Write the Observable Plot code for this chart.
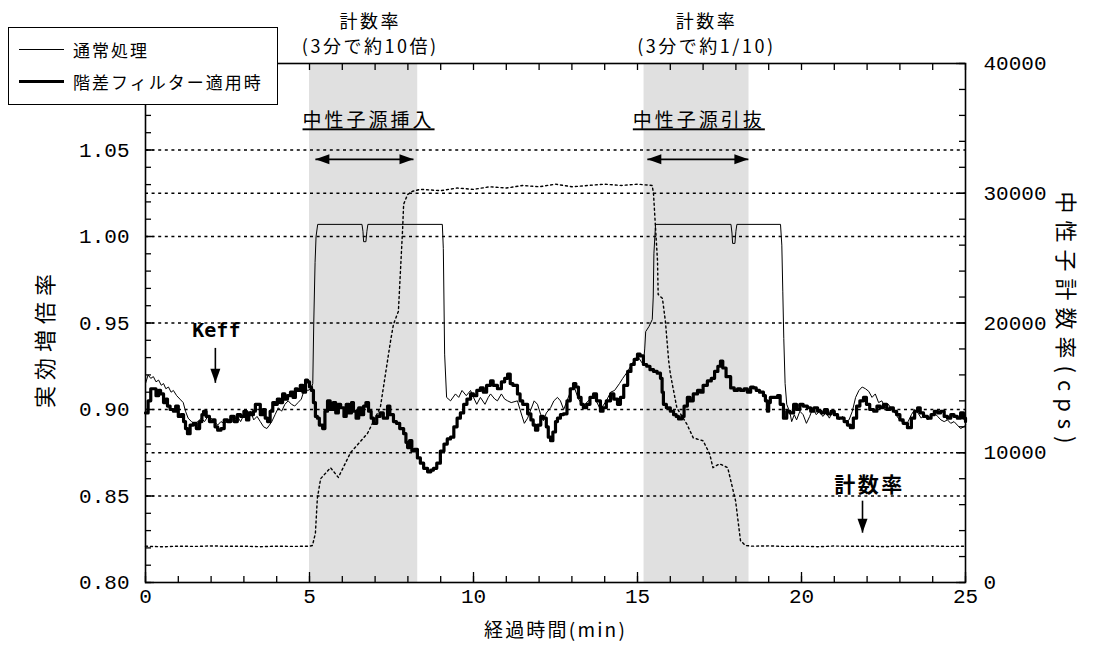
<!DOCTYPE html>
<html><head><meta charset="utf-8">
<script src="https://cdn.jsdelivr.net/npm/d3@7"></script>
<script src="https://cdn.jsdelivr.net/npm/@observablehq/plot@0.6"></script>
<style>
html,body{margin:0;padding:0;background:#fff;}
#wrap{position:relative;width:1093px;height:648px;overflow:hidden;}
#legend{position:absolute;left:8px;top:27px;width:268px;height:76px;border:1.5px solid #000;background:#fff;
  font-family:"Noto Sans CJK JP",sans-serif;font-size:17px;letter-spacing:2px;color:#000;}
#legend .row{position:absolute;left:10px;height:24px;display:flex;align-items:center;}
#legend .sw{width:45px;margin-right:9px;}
</style></head>
<body><div id="wrap"><div id="chart"></div>
<div id="legend">
  <div class="row" style="top:9px"><div class="sw" style="border-top:1px solid #000"></div><span>通常処理</span></div>
  <div class="row" style="top:41px"><div class="sw" style="border-top:3px solid #000"></div><span>階差フィルター適用時</span></div>
</div></div>
<script>
// ---- data ----
const thickT = [0.00,0.08,0.16,0.24,0.32,0.40,0.46,0.55,0.62,0.67,0.75,0.85,0.92,1.00,1.08,1.16,1.22,1.28,1.36,1.46,1.55,1.65,1.72,1.77,1.85,1.95,2.05,2.12,2.20,2.30,2.40,2.50,2.60,2.70,2.80,2.90,3.00,3.08,3.15,3.22,3.29,3.35,3.41,3.50,3.58,3.65,3.72,3.80,3.88,3.95,4.02,4.10,4.18,4.25,4.33,4.42,4.50,4.57,4.63,4.72,4.80,4.88,4.94,5.00,5.06,5.12,5.18,5.24,5.30,5.40,5.47,5.55,5.63,5.72,5.80,5.88,5.95,6.05,6.12,6.20,6.28,6.34,6.42,6.50,6.58,6.65,6.72,6.80,6.88,6.95,7.05,7.15,7.25,7.38,7.45,7.56,7.65,7.75,7.87,7.94,7.99,8.05,8.12,8.20,8.29,8.38,8.48,8.60,8.70,8.78,8.88,8.99,9.10,9.20,9.30,9.40,9.50,9.60,9.70,9.80,9.91,10.00,10.10,10.21,10.30,10.40,10.52,10.60,10.73,10.85,10.95,11.04,11.12,11.20,11.34,11.42,11.50,11.65,11.75,11.82,11.89,11.96,12.05,12.13,12.22,12.28,12.35,12.42,12.50,12.56,12.65,12.74,12.85,12.95,13.05,13.12,13.20,13.28,13.35,13.45,13.55,13.66,13.75,13.87,13.95,14.05,14.18,14.28,14.39,14.48,14.58,14.70,14.80,14.90,15.00,15.08,15.18,15.28,15.38,15.49,15.60,15.70,15.75,15.79,15.88,16.00,16.10,16.18,16.25,16.35,16.42,16.52,16.60,16.70,16.83,16.92,17.00,17.13,17.25,17.35,17.45,17.53,17.60,17.70,17.84,17.95,18.05,18.14,18.25,18.35,18.45,18.54,18.62,18.72,18.84,18.90,18.96,19.00,19.05,19.15,19.27,19.35,19.45,19.55,19.65,19.76,19.85,19.95,20.05,20.18,20.28,20.38,20.49,20.60,20.70,20.79,20.90,21.00,21.10,21.19,21.30,21.40,21.49,21.58,21.68,21.78,21.89,21.98,22.08,22.20,22.30,22.40,22.50,22.60,22.70,22.80,22.90,23.00,23.10,23.23,23.35,23.45,23.54,23.62,23.72,23.84,23.95,24.05,24.15,24.24,24.35,24.45,24.55,24.65,24.75,24.85,24.94,25.00];
const thickV = [0.898,0.905,0.912,0.912,0.908,0.911,0.909,0.904,0.906,0.902,0.900,0.899,0.902,0.896,0.897,0.893,0.889,0.886,0.891,0.892,0.889,0.893,0.897,0.899,0.896,0.893,0.894,0.890,0.888,0.889,0.894,0.893,0.896,0.893,0.897,0.896,0.899,0.894,0.898,0.897,0.899,0.903,0.903,0.897,0.900,0.895,0.893,0.899,0.904,0.903,0.906,0.904,0.909,0.906,0.908,0.910,0.907,0.912,0.911,0.914,0.910,0.917,0.916,0.913,0.911,0.904,0.896,0.895,0.891,0.889,0.899,0.905,0.900,0.904,0.898,0.903,0.901,0.896,0.903,0.898,0.904,0.899,0.895,0.901,0.897,0.902,0.904,0.899,0.895,0.892,0.896,0.898,0.895,0.902,0.897,0.893,0.892,0.889,0.886,0.881,0.878,0.882,0.876,0.877,0.872,0.869,0.866,0.864,0.865,0.866,0.869,0.876,0.880,0.883,0.884,0.890,0.895,0.898,0.903,0.906,0.909,0.908,0.911,0.9125,0.910,0.914,0.9165,0.914,0.912,0.916,0.918,0.9205,0.915,0.914,0.909,0.905,0.903,0.8975,0.894,0.891,0.888,0.891,0.896,0.895,0.890,0.884,0.882,0.887,0.893,0.895,0.897,0.8975,0.905,0.912,0.915,0.913,0.907,0.903,0.901,0.903,0.907,0.909,0.905,0.899,0.901,0.905,0.909,0.906,0.903,0.907,0.914,0.922,0.926,0.929,0.932,0.931,0.926,0.925,0.923,0.922,0.921,0.918,0.910,0.903,0.901,0.899,0.897,0.896,0.8945,0.896,0.902,0.907,0.905,0.909,0.911,0.910,0.914,0.9165,0.918,0.922,0.925,0.928,0.924,0.919,0.9125,0.911,0.912,0.911,0.912,0.910,0.913,0.9125,0.911,0.910,0.908,0.905,0.899,0.904,0.907,0.907,0.908,0.903,0.895,0.899,0.898,0.903,0.900,0.903,0.902,0.901,0.899,0.901,0.899,0.898,0.900,0.8975,0.899,0.897,0.895,0.895,0.893,0.891,0.8895,0.895,0.902,0.905,0.907,0.903,0.900,0.899,0.902,0.901,0.903,0.900,0.901,0.899,0.897,0.894,0.892,0.8895,0.895,0.899,0.901,0.898,0.896,0.895,0.897,0.899,0.898,0.899,0.896,0.895,0.897,0.896,0.895,0.898,0.895,0.893];

const thinT = [0.00,0.08,0.16,0.24,0.32,0.40,0.48,0.55,0.62,0.70,0.78,0.85,0.95,1.05,1.15,1.22,1.30,1.40,1.50,1.60,1.70,1.80,1.90,2.00,2.10,2.20,2.30,2.40,2.50,2.60,2.70,2.80,2.90,3.00,3.10,3.20,3.30,3.40,3.50,3.60,3.70,3.78,3.85,3.95,4.05,4.15,4.25,4.35,4.45,4.55,4.65,4.75,4.85,4.95,5.05,5.10,5.13,5.17,5.20,5.25,6.60,6.63,6.65,6.72,6.75,6.78,9.05,9.08,9.12,9.18,9.30,9.45,9.55,9.65,9.78,9.91,10.00,10.10,10.21,10.35,10.45,10.52,10.65,10.73,10.85,10.95,11.04,11.15,11.34,11.45,11.55,11.65,11.75,11.85,11.95,12.05,12.13,12.22,12.35,12.45,12.56,12.65,12.75,12.85,12.95,13.05,13.20,13.35,13.55,13.66,13.87,14.05,14.18,14.30,14.45,14.55,14.70,14.85,15.00,15.10,15.18,15.22,15.25,15.35,15.45,15.48,15.50,15.55,17.85,17.88,17.90,17.97,18.00,18.03,19.36,19.40,19.43,19.46,19.50,19.55,19.65,19.70,19.78,19.85,19.95,20.05,20.15,20.25,20.35,20.45,20.55,20.65,20.75,20.85,20.95,21.05,21.15,21.25,21.35,21.45,21.55,21.65,21.75,21.85,21.95,22.05,22.15,22.25,22.35,22.45,22.55,22.65,22.75,22.85,22.95,23.05,23.15,23.25,23.35,23.45,23.55,23.65,23.75,23.85,23.95,24.05,24.15,24.25,24.35,24.45,24.55,24.65,24.75,24.85,24.95,25.00];
const thinV = [0.915,0.920,0.918,0.919,0.916,0.917,0.914,0.915,0.912,0.913,0.910,0.911,0.908,0.906,0.904,0.899,0.895,0.893,0.892,0.893,0.895,0.893,0.896,0.895,0.893,0.891,0.893,0.892,0.893,0.895,0.894,0.896,0.893,0.897,0.896,0.899,0.894,0.896,0.893,0.890,0.889,0.891,0.893,0.897,0.901,0.899,0.903,0.905,0.903,0.902,0.904,0.906,0.912,0.911,0.912,0.915,0.950,0.985,1.000,1.007,1.007,1.003,0.997,0.997,1.003,1.007,1.007,0.993,0.932,0.907,0.905,0.909,0.907,0.911,0.908,0.911,0.907,0.903,0.907,0.903,0.907,0.909,0.906,0.905,0.909,0.906,0.905,0.904,0.905,0.898,0.892,0.895,0.900,0.905,0.903,0.897,0.8935,0.898,0.901,0.905,0.907,0.905,0.900,0.905,0.910,0.914,0.906,0.902,0.906,0.908,0.900,0.905,0.910,0.911,0.915,0.918,0.922,0.927,0.931,0.928,0.926,0.935,0.945,0.948,0.952,0.965,0.990,1.007,1.007,1.002,0.996,0.996,1.003,1.007,1.007,0.995,0.968,0.941,0.915,0.903,0.898,0.893,0.897,0.894,0.899,0.897,0.892,0.896,0.901,0.897,0.899,0.896,0.898,0.895,0.899,0.897,0.894,0.896,0.893,0.894,0.899,0.907,0.911,0.913,0.912,0.9105,0.907,0.909,0.904,0.905,0.901,0.903,0.900,0.898,0.895,0.893,0.891,0.893,0.897,0.900,0.898,0.895,0.897,0.894,0.896,0.898,0.896,0.894,0.893,0.894,0.892,0.893,0.891,0.889,0.890,0.891];

const rateT   = [0,0.5,1,1.5,2,2.5,3,3.5,4,4.5,5.0,5.09,5.18,5.24,5.34,5.64,5.88,6.25,6.77,7.16,7.47,7.56,7.71,7.84,7.87,7.99,8.14,8.38,9,9.5,10,10.5,11,11.5,12,12.5,13,13.5,14,14.5,15,15.45,15.49,15.55,15.61,15.63,15.76,15.85,15.95,16.0,16.2,16.5,16.7,17.0,17.2,17.3,17.5,17.75,17.99,18.14,18.29,18.5,19,19.5,20,20.5,21,21.5,22,22.5,23,23.5,24,24.5,25];
const rateCps = [2800,2750,2800,2780,2820,2790,2800,2760,2800,2780,2800,2850,3800,6500,8000,8850,8100,10000,11500,13500,18600,19900,20900,27300,29150,29900,30150,30300,30200,30400,30300,30500,30400,30600,30500,30700,30500,30600,30700,30600,30700,30600,29900,27300,24800,22200,21900,20150,17100,16100,13460,12230,11150,10920,9920,8850,9150,8850,6300,3230,2850,2800,2820,2780,2800,2760,2810,2790,2800,2770,2800,2790,2810,2780,2800];

const bandStart = [5.0, 15.2];
const bandEnd   = [8.3, 18.4];

const leftTickLabels = [0.80,0.85,0.90,0.95,1.00,1.05];
const rightTickLabels = [0,10000,20000,30000,40000];
const xTickLabels = [0,5,10,15,20,25];
const gridLeft = [0.85,0.90,0.95,1.00,1.05];
const gridRight = [10000,30000];

// annotation texts and anchor positions (data units)
const topNotes = [
  {t: 6.85, line1: "計数率", line2: "(3分で約10倍)"},
  {t: 17.1, line1: "計数率", line2: "(3分で約1/10)"}
];
const sourceNotes = [
  {t: 6.8, v: 1.0666, label: "中性子源挿入", a1: 5.18, a2: 8.17, av: 1.0446},
  {t: 16.87, v: 1.0666, label: "中性子源引抜", a1: 15.3, a2: 18.38, av: 1.0446}
];
const pointerNotes = [
  {label: "Keff", t: 2.16, v: 0.9454, at: 2.13, vTop: 0.9356, vTip: 0.9154},
  {label: "計数率", t: 22.07, v: 0.856, at: 21.86, vTop: 0.8473, vTip: 0.8288}
];

// ---- helpers ----
const cpsMax = 40000, vMin = 0.80, vMax = 1.10, tMax = 25;
const toL = c => vMin + c * (vMax - vMin) / cpsMax;
const fromL = v => Math.round((v - vMin) / (vMax - vMin) * cpsMax);
const thick = thickT.map((t, i) => ({t, v: thickV[i]}));
const thin = thinT.map((t, i) => ({t, v: thinV[i]}));
const rate = rateT.map((t, i) => ({t, v: toL(rateCps[i])}));
const bands = bandStart.map((s, i) => ({s, e: bandEnd[i]}));

const W = 1093, H = 648, mL = 145, mR = 128, mT = 63, mB = 66;
const fw = W - mL - mR, fh = H - mT - mB;
const pxX = p => p * tMax / fw;              // pixel length -> x data length
const pxY = p => p * (vMax - vMin) / fh;     // pixel length -> y data length
const leftMinor = d3.range(80, 111).map(k => k / 100);
const rightMinor = d3.range(0, 40001, 2000).map(toL);
const xMinor = d3.range(0, 26);

const triShape = {draw(ctx) { ctx.moveTo(0, 0); ctx.lineTo(-14, -5); ctx.lineTo(-14, 5); ctx.closePath(); }};
const numFont = {fontFamily: "Liberation Mono, DejaVu Sans Mono, monospace", fontSize: 21};
const tk = {stroke: "#000", strokeWidth: 1.3};

const plot = Plot.plot({
  width: W, height: H,
  marginLeft: mL, marginRight: mR, marginTop: mT, marginBottom: mB,
  x: {domain: [0, tMax], label: null},
  y: {domain: [vMin, vMax], label: null},
  style: {fontFamily: "Noto Sans CJK JP, sans-serif", fontSize: "19px", background: "#fff", color: "#000", overflow: "visible"},
  marks: [
    Plot.rectX(bands, {x1: "s", x2: "e", fill: "#e0e0e0"}),
    Plot.ruleY(gridLeft.concat(gridRight.map(toL)), {stroke: "#000", strokeWidth: 1.4, strokeDasharray: "3,3.6"}),
    Plot.line(rate, {x: "t", y: "v", stroke: "#000", strokeWidth: 1.4, strokeDasharray: "2,3"}),
    Plot.line(thin, {x: "t", y: "v", stroke: "#000", strokeWidth: 1}),
    Plot.line(thick, {x: "t", y: "v", stroke: "#000", strokeWidth: 3.2, curve: "step-after"}),
    // inward ticks
    Plot.ruleY(leftMinor, {y: d => d, x1: 0, x2: pxX(6), ...tk}),
    Plot.ruleY(leftTickLabels, {y: d => d, x1: 0, x2: pxX(9), ...tk}),
    Plot.ruleY(rightMinor, {y: d => d, x1: tMax - pxX(6), x2: tMax, ...tk}),
    Plot.ruleY(rightTickLabels.map(toL), {y: d => d, x1: tMax - pxX(9), x2: tMax, ...tk}),
    Plot.ruleX(xMinor, {x: d => d, y1: vMin, y2: vMin + pxY(6), ...tk}),
    Plot.ruleX(xTickLabels, {x: d => d, y1: vMin, y2: vMin + pxY(10), ...tk}),
    Plot.ruleX(xMinor, {x: d => d, y1: vMax - pxY(7), y2: vMax, ...tk}),
    Plot.frame({stroke: "#000", strokeWidth: 1.6}),
    // axes (labels only)
    Plot.axisY(leftTickLabels, {anchor: "left", tickSize: 0, tickPadding: 16, label: null, tickFormat: d => d.toFixed(2), ...numFont}),
    Plot.axisY(rightTickLabels.map(toL), {anchor: "right", tickSize: 0, tickPadding: 18, label: null, tickFormat: d => String(fromL(d)), ...numFont}),
    Plot.axisX(xTickLabels, {anchor: "bottom", tickSize: 0, tickPadding: 6, label: null, tickFormat: d => String(d), ...numFont}),
    // axis titles
    Plot.text(["実効増倍率"], {frameAnchor: "left", textAnchor: "middle", dx: -100, dy: 15, rotate: -90, fontSize: 22, text: d => d}),
    Plot.text(["中性子計数率(cps)"], {frameAnchor: "right", textAnchor: "middle", dx: 100, dy: -2, rotate: 90, fontSize: 22, text: d => d}),
    Plot.text(["経過時間(min)"], {frameAnchor: "bottom", dy: 54, fontSize: 19, text: d => d}),
    // top notes
    Plot.text(topNotes, {x: "t", frameAnchor: "top", dy: -48, text: "line1", fontSize: 18}),
    Plot.text(topNotes, {x: "t", frameAnchor: "top", dy: -23, text: "line2", fontSize: 18}),
    // source notes with double arrows
    Plot.text(sourceNotes, {x: "t", y: "v", text: "label", fontSize: 19}),
    Plot.link(sourceNotes, {x1: "a1", x2: "a2", y1: "av", y2: "av", stroke: "#000", strokeWidth: 1.6}),
    Plot.dot(sourceNotes, {x: "a2", y: "av", symbol: triShape, fill: "#000", stroke: "none", r: 5}),
    Plot.dot(sourceNotes, {x: "a1", y: "av", symbol: triShape, fill: "#000", stroke: "none", r: 5, rotate: 180}),
    // pointer notes
    Plot.text(pointerNotes.slice(0,1), {x: "t", y: "v", text: "label", fontSize: 20, fontWeight: "bold", fontFamily: "DejaVu Sans Mono"}),
    Plot.text(pointerNotes.slice(1), {x: "t", y: "v", text: "label", fontSize: 21, fontWeight: "bold"}),
    Plot.link(pointerNotes, {x1: "at", x2: "at", y1: "vTop", y2: "vTip", stroke: "#000", strokeWidth: 1.6}),
    Plot.dot(pointerNotes, {x: "at", y: "vTip", symbol: triShape, fill: "#000", stroke: "none", r: 5, rotate: 90})
  ]
});
document.getElementById("chart").appendChild(plot);
const svg = d3.select(plot);
svg.selectAll("text").each(function() {
  const s = this.textContent;
  if (s === "中性子源挿入" || s === "中性子源引抜") { d3.select(this).attr("text-decoration", "underline").attr("letter-spacing", "3px"); }
  else if (s === "計数率" || s.startsWith("(3分")) { d3.select(this).attr("letter-spacing", "2.5px"); }
  else if (s === "実効増倍率") { d3.select(this).attr("letter-spacing", "6px"); }
  else if (s.startsWith("中性子計数率")) { d3.select(this).attr("letter-spacing", "7px"); }
  else if (s.startsWith("経過時間")) { d3.select(this).attr("letter-spacing", "2.2px"); }
});
</script></body></html>
